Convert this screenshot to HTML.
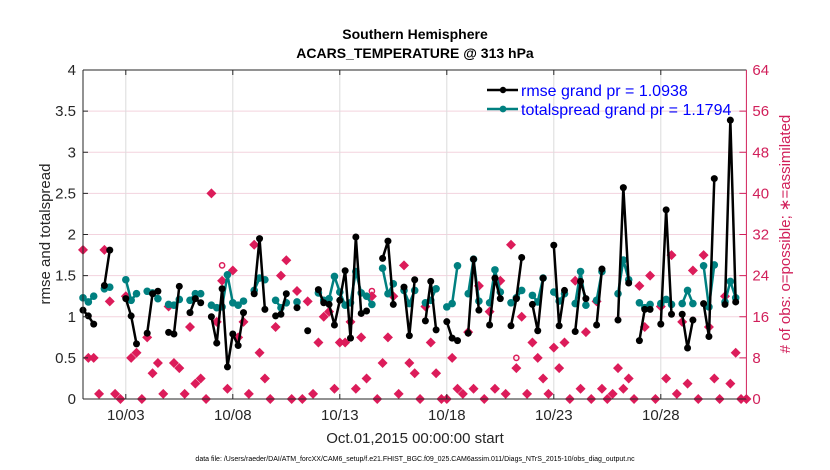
<!DOCTYPE html>
<html><head><meta charset="utf-8"><style>
body{margin:0;background:#fff;}
svg{display:block;font-family:"Liberation Sans",Arial,sans-serif;}
</style></head><body>
<svg id="chart" width="830" height="470" viewBox="0 0 830 470">
<rect width="830" height="470" fill="#fff"/>
<text x="415" y="39" text-anchor="middle" font-size="14" font-weight="bold" fill="#000">Southern Hemisphere</text>
<text x="415" y="58" text-anchor="middle" font-size="14" font-weight="bold" fill="#000">ACARS_TEMPERATURE @ 313 hPa</text>
<g id="grid"></g>
<g id="obs"></g>
<g id="lines"></g>
<g id="axes"></g>
<text x="0" y="0" transform="translate(50,234) rotate(-90)" text-anchor="middle" font-size="15" fill="#262626">rmse and totalspread</text>
<text x="0" y="0" transform="translate(790,234) rotate(-90)" text-anchor="middle" font-size="15" fill="#D11F5A"># of obs: o=possible; ∗=assimilated</text>
<text x="415" y="443" text-anchor="middle" font-size="15" fill="#262626">Oct.01,2015 00:00:00 start</text>
<text x="415" y="461" text-anchor="middle" font-size="7" fill="#000">data file: /Users/raeder/DAI/ATM_forcXX/CAM6_setup/f.e21.FHIST_BGC.f09_025.CAM6assim.011/Diags_NTrS_2015-10/obs_diag_output.nc</text>
<g>
<g>
<line x1="487" y1="90" x2="518" y2="90" stroke="#000" stroke-width="2.5"/>
<circle cx="503" cy="90" r="3.2" fill="#000"/>
<text x="521" y="96" font-size="16" fill="#0000FF">rmse grand pr = 1.0938</text>
</g>
<g>
<line x1="487" y1="109" x2="518" y2="109" stroke="#008080" stroke-width="2.5"/>
<circle cx="503" cy="109" r="3.4" fill="#008080"/>
<text x="521" y="115" font-size="16" fill="#0000FF">totalspread grand pr = 1.1794</text>
</g>
</g>
</svg>
<script>
const N = null;
const xTickDays = [2, 7, 12, 17, 22, 27];
const xTickLabels = ["10/03", "10/08", "10/13", "10/18", "10/23", "10/28"];
const yTicks = [0, 0.5, 1, 1.5, 2, 2.5, 3, 3.5, 4];
const yTickLabels = ["0", "0.5", "1", "1.5", "2", "2.5", "3", "3.5", "4"];
const y2Ticks = [0, 8, 16, 24, 32, 40, 48, 56, 64];
const rmse = [1.08,1.01,0.91,N,1.38,1.81,N,N,1.22,1.01,0.67,N,0.80,1.28,1.31,N,0.81,0.79,1.37,N,1.05,1.22,1.17,N,1.00,0.68,1.34,0.39,0.79,0.65,1.05,N,1.28,1.95,1.09,N,1.01,1.03,1.28,N,1.11,N,0.83,N,1.33,1.17,1.15,0.90,1.20,1.56,0.74,1.97,1.04,1.07,N,N,1.71,1.92,1.15,N,1.36,0.77,1.45,N,0.95,1.43,0.84,N,0.94,0.74,0.71,N,0.80,1.70,1.08,N,0.90,1.47,1.22,N,0.89,1.22,1.72,N,1.15,0.83,1.47,N,1.87,0.89,1.32,N,0.82,1.43,1.22,N,0.90,1.58,N,N,0.96,2.57,1.41,N,0.71,1.09,1.09,N,0.91,2.30,1.03,N,1.03,0.62,0.96,N,1.16,0.76,2.68,N,1.15,3.39,1.18,N,N];
const spread = [1.23,1.18,1.25,N,1.34,1.36,N,N,1.45,1.20,1.28,N,1.31,1.29,1.22,N,1.15,1.14,1.21,N,1.20,1.28,1.28,N,1.14,1.11,1.12,1.51,1.17,1.14,1.19,N,1.32,1.47,1.45,N,1.20,1.11,1.17,N,1.18,N,N,N,1.29,1.20,1.22,1.49,1.30,1.14,1.17,1.55,1.29,1.25,1.15,N,1.59,1.28,1.40,N,1.32,1.16,1.32,N,1.17,1.20,1.34,N,1.12,1.16,1.62,N,1.28,1.70,1.19,N,1.17,1.57,1.30,N,1.17,1.23,1.32,N,1.26,1.18,1.47,N,1.30,1.19,1.28,N,1.16,1.55,1.14,N,1.20,1.55,N,N,1.28,1.69,1.45,N,1.17,1.11,1.15,N,1.16,1.21,1.15,N,1.16,1.32,1.16,N,1.62,1.12,1.63,N,1.18,1.43,1.23,N,N];
const nAssim = [29,8,8,1,29,19,1,0,20,8,9,0,12,5,7,1,18,7,6,1,14,3,4,0,40,15,23,2,25,12,15,1,30,9,4,0,14,24,27,0,21,0,19,1,11,16,17,2,11,11,15,2,12,4,20,0,7,12,20,1,26,7,5,0,18,11,5,0,0,8,2,1,13,2,22,0,17,2,23,1,30,6,16,1,11,8,4,1,10,6,11,0,23,2,13,0,19,2,0,1,6,2,4,0,22,14,24,0,18,4,28,1,15,3,25,0,28,14,4,0,20,3,9,0,0];
const nPossibleSlots = [26, 54, 81];
const nPossibleVals = [26, 21, 8];

const NS = "http://www.w3.org/2000/svg";
const X0 = 83, XW = 663.4, Y0 = 399, YH = 329;
function xDay(t){ return X0 + XW * t / 31; }
function xSlot(s){ return xDay(s / 4); }
function yL(v){ return Y0 - YH * v / 4; }
function yR(v){ return Y0 - YH * v / 64; }
function mk(tag, attrs, parent){
  const e = document.createElementNS(NS, tag);
  for (const k in attrs) e.setAttribute(k, attrs[k]);
  parent.appendChild(e);
  return e;
}
const grid = document.getElementById('grid');
const axes = document.getElementById('axes');
const obsG = document.getElementById('obs');
const linesG = document.getElementById('lines');

yTicks.forEach((v, i) => {
  if (i > 0 && i < yTicks.length - 1) {
    const g = mk('line', {x1: X0, x2: X0 + XW, y1: yL(v), y2: yL(v), stroke: '#f3d3de', 'stroke-width': 1}, grid);
    
    
  }
  const tk = mk('line', {x1: X0, x2: X0 + 5, y1: yL(v), y2: yL(v), stroke: '#262626', 'stroke-width': 1}, axes);
  
  
  const t = mk('text', {x: X0 - 7, y: yL(v) + 5, 'text-anchor': 'end', 'font-size': 15, fill: '#262626'}, axes);
  t.textContent = yTickLabels[i];
  
  
});
y2Ticks.forEach(v => {
  const tk = mk('line', {x1: X0 + XW - 7, x2: X0 + XW, y1: yR(v), y2: yR(v), stroke: '#D11F5A', 'stroke-width': 1}, axes);
  
  
  const t = mk('text', {x: X0 + XW + 6, y: yR(v) + 5, 'font-size': 15, fill: '#D11F5A'}, axes);
  t.textContent = String(v);
  
  
});
xTickDays.forEach((d, i) => {
  const g = mk('line', {x1: xDay(d), x2: xDay(d), y1: yL(4), y2: Y0, stroke: '#dcdcdc', 'stroke-width': 1}, grid);
  
  
  const tk = mk('line', {x1: xDay(d), x2: xDay(d), y1: Y0, y2: Y0 - 5, stroke: '#262626'}, axes);
  
  
  const tk2 = mk('line', {x1: xDay(d), x2: xDay(d), y1: yL(4), y2: yL(4) + 5, stroke: '#262626'}, axes);
  
  
  const t = mk('text', {x: xDay(d), y: 420, 'text-anchor': 'middle', 'font-size': 15, fill: '#262626'}, axes);
  t.textContent = xTickLabels[i];
  
  
});
const axL = mk('path', {d: `M${X0},${yL(4)}H${X0+XW}M${X0},${Y0}H${X0+XW}M${X0},${yL(4)}V${Y0}`, stroke: '#262626', fill: 'none', 'stroke-width': 1}, axes);


const axR = mk('line', {x1: X0 + XW, x2: X0 + XW, y1: yL(4), y2: Y0, stroke: '#D11F5A', 'stroke-width': 1}, axes);



nAssim.forEach((n, s) => {
  const x = xSlot(s), y = yR(n), r = 5;
  const d = mk('path', {d: `M${x},${y-r}L${x+r},${y}L${x},${y+r}L${x-r},${y}Z`, fill: '#DC1C5A'}, obsG);
  
  
});
nPossibleSlots.forEach((s, i) => {
  const c = mk('circle', {cx: xSlot(s), cy: yR(nPossibleVals[i]), r: 2.6, fill: 'none', stroke: '#DC1C5A', 'stroke-width': 1.5}, obsG);
  
  
});

function drawSeries(vals, color, name, r){
  let d = '', pen = false;
  vals.forEach((v, s) => {
    if (v === null) { pen = false; return; }
    d += (pen ? 'L' : 'M') + xSlot(s).toFixed(2) + ',' + yL(v).toFixed(2);
    pen = true;
  });
  const p = mk('path', {d: d, fill: 'none', stroke: color, 'stroke-width': 2.5, 'stroke-linejoin': 'round'}, linesG);
  
  
  vals.forEach((v, s) => {
    if (v === null) return;
    const c = mk('circle', {cx: xSlot(s), cy: yL(v), r: r, fill: color}, linesG);
    
    
  });
}
drawSeries(spread, '#008080', 'totalspread', 3.8);
drawSeries(rmse, '#000000', 'rmse', 3.5);
</script>
</body></html>
